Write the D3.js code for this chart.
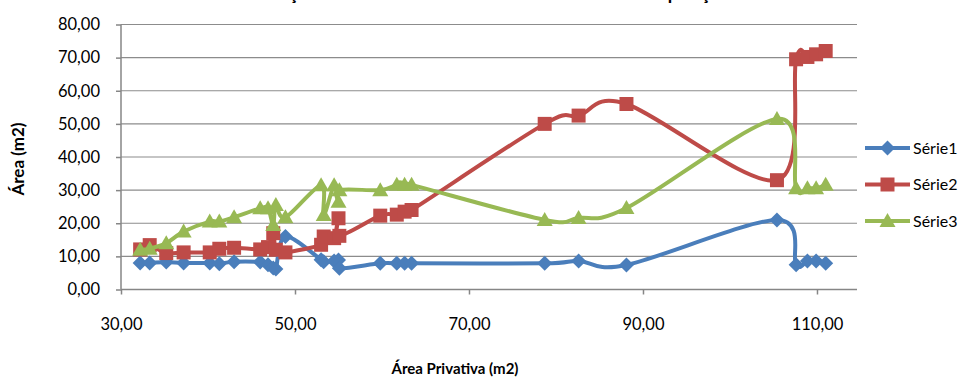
<!DOCTYPE html>
<html><head><meta charset="utf-8">
<script src="https://cdn.jsdelivr.net/npm/d3@7"></script>
<style>body{margin:0;background:#fff;}svg{display:block;font-family:Lato,"Open Sans",sans-serif;}</style>
</head><body><svg id="c" width="968" height="379"></svg>
<script>
const title = "Relação entre Área Comum e Área Privativa da Composição";
const xTitle = "Área Privativa (m2)";
const yTitle = "Área (m2)";
const seriesNames = ["Série1", "Série2", "Série3"];
const xTicks = [30, 50, 70, 90, 110];
const yTicks = [0, 10, 20, 30, 40, 50, 60, 70, 80];
const areaPrivativa = [32.2, 33.3, 35.2, 37.2, 40.2, 41.3, 43.0, 46.0, 46.9, 47.5, 47.8, 48.9, 53.0, 53.3, 54.5, 55.0, 55.1, 59.8, 61.7, 62.6, 63.4, 78.7, 82.6, 88.1, 105.4, 107.6, 108.9, 109.9, 111.0];
const serie1 = [8.0, 8.0, 8.3, 8.0, 8.0, 7.8, 8.4, 8.3, 7.5, 6.5, 6.2, 16.0, 9.0, 8.4, 8.6, 8.9, 6.4, 7.9, 7.9, 7.9, 7.9, 7.9, 8.6, 7.4, 21.0, 7.5, 8.6, 8.6, 7.9];
const serie2 = [12.1, 13.4, 11.0, 11.2, 11.2, 12.3, 12.6, 12.1, 12.8, 17.0, 12.0, 11.2, 13.5, 16.0, 15.5, 21.5, 16.2, 22.3, 22.6, 23.5, 24.0, 50.0, 52.5, 56.0, 33.0, 69.5, 70.2, 71.0, 72.0];
const serie3 = [12.0, 12.3, 14.0, 17.5, 20.5, 20.5, 21.8, 24.5, 24.5, 19.5, 25.5, 21.8, 31.5, 22.5, 31.5, 26.5, 30.0, 30.0, 31.6, 31.6, 31.6, 21.0, 21.6, 24.6, 51.5, 30.6, 30.6, 30.6, 31.6];

const colors = ["#4A7EBB", "#BE4B48", "#98B954"];
const shapes = ["M0,-7.5L7.5,0L0,7.5L-7.5,0Z", "M-7,-7H7V7H-7Z", "M0,-8L8,6L-8,6Z"];
const allSeries = [serie1, serie2, serie3];

const svg = d3.select("#c");
const L = 121, R = 857, T = 24.5, B = 289.5;
const x = d3.scaleLinear().domain([30, 114.6]).range([L, R]);
const y = d3.scaleLinear().domain([0, 80]).range([B, T]);
const fmt = v => d3.format(".2f")(v).replace(".", ",");

// title (cut off at top, as in the reference)
svg.append("text").attr("x", 492).attr("y", 0).attr("text-anchor", "middle")
  .attr("font-size", 18).attr("font-weight", "bold").attr("fill", "#000").text(title);

// gridlines
svg.append("g").selectAll("line").data(yTicks.filter(d => d > 0)).join("line")
  .attr("x1", L).attr("x2", R).attr("y1", d => y(d)).attr("y2", d => y(d))
  .attr("stroke", "#8c8c8c").attr("stroke-width", 1.2);

// axes
const yAxis = svg.append("g").attr("transform", `translate(${L},0)`)
  .call(d3.axisLeft(y).tickValues(yTicks).tickFormat(fmt).tickSize(5).tickPadding(16));
const xAxis = svg.append("g").attr("transform", `translate(0,${B})`)
  .call(d3.axisBottom(x).tickValues(xTicks).tickFormat(fmt).tickSize(5).tickPadding(24));
[yAxis, xAxis].forEach(a => {
  a.select(".domain").attr("stroke", "#868686").attr("stroke-width", 1.5);
  a.selectAll(".tick line").attr("stroke", "#868686").attr("stroke-width", 1.5);
  a.selectAll("text").attr("font-size", 16.5).attr("fill", "#000").attr("font-family", "Lato, sans-serif");
});
xAxis.select(".domain").attr("d", `M${L},0H${R}`);
yAxis.select(".domain").attr("d", `M0,${B}V${T}`);

// axis titles
svg.append("text").attr("transform", `translate(24,${(T + B) / 2 + 2}) rotate(-90)`)
  .attr("text-anchor", "middle").attr("font-size", 17).attr("font-weight", "bold").text(yTitle);
svg.append("text").attr("x", 455).attr("y", 374).attr("text-anchor", "middle")
  .attr("font-size", 15).attr("font-weight", "bold").text(xTitle);

// series
const line = d3.line().x(d => x(d[0])).y(d => y(d[1])).curve(d3.curveCardinal.tension(0));
allSeries.forEach((vals, i) => {
  const pts = areaPrivativa.map((xv, j) => [xv, vals[j]]);
  const g = svg.append("g");
  g.append("path").attr("d", line(pts)).attr("fill", "none")
    .attr("stroke", colors[i]).attr("stroke-width", 4).attr("stroke-linejoin", "round");
  g.selectAll("path.m").data(pts).join("path").attr("class", "m")
    .attr("d", shapes[i]).attr("transform", d => `translate(${x(d[0])},${y(d[1])})`)
    .attr("fill", colors[i]);
});

// legend
const lg = svg.append("g");
seriesNames.forEach((n, i) => {
  const ly = 148 + i * 36.5;
  lg.append("line").attr("x1", 865).attr("x2", 910).attr("y1", ly).attr("y2", ly)
    .attr("stroke", colors[i]).attr("stroke-width", 4);
  lg.append("path").attr("d", shapes[i]).attr("transform", `translate(887.5,${ly})`).attr("fill", colors[i]);
  lg.append("text").attr("x", 913).attr("y", ly + 5.5).attr("font-size", 16).text(n);
});
</script></body></html>
